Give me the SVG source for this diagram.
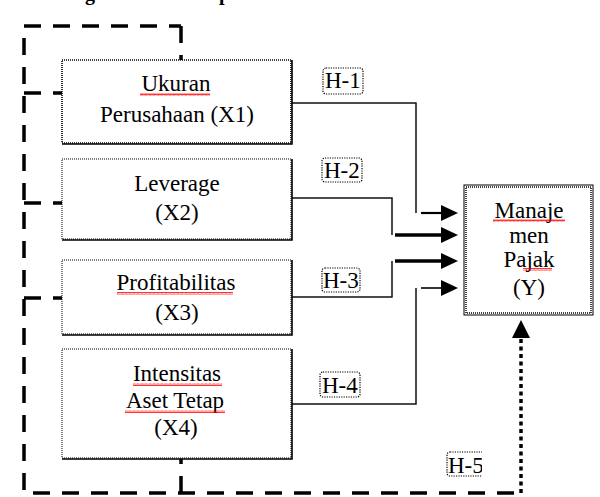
<svg xmlns="http://www.w3.org/2000/svg" width="600" height="497" viewBox="0 0 600 497" font-family="'Liberation Serif', 'Times New Roman', 'DejaVu Serif', serif">
<style>
text{font-family:'Liberation Serif','Times New Roman','DejaVu Serif',serif;font-size:23px;fill:#000}
.c{text-anchor:middle}
.box{fill:#fff;stroke:#000;stroke-width:1;stroke-dasharray:1 1}
.sh{fill:none;stroke:#000;stroke-width:1.6}
.dash{fill:none;stroke:#000;stroke-width:3.5;stroke-dasharray:17 12}
.ln{fill:none;stroke:#111;stroke-width:1.5}
.lab{fill:#fff;stroke:#000;stroke-width:1.2;stroke-dasharray:1.2 1.2}
.sq{fill:url(#sqp)}
</style>
<defs>
<pattern id="sqp" x="0" y="0" width="4" height="3" patternUnits="userSpaceOnUse">
<path d="M0,2.5 L1,0.5 L2,2.5 L3,0.5 L4,2.5" fill="none" stroke="#f00" stroke-width="0.8"/>
</pattern>
<marker id="ah" markerUnits="userSpaceOnUse" markerWidth="17" markerHeight="17" refX="0" refY="8" orient="auto">
<path d="M0,0 L17,8 L0,16 z" fill="#000"/>
</marker>
<clipPath id="h5clip"><rect x="440" y="445" width="42" height="40"/></clipPath>
</defs>

<text x="30.6" y="-0.5" font-family="'Liberation Serif', serif" style="font-weight:bold;font-size:20px;word-spacing:44.6px">Kerangka Konseptual</text>

<g id="connectors">
<path class="dash" d="M181,26 V60"/>
<path class="dash" d="M181,26 H24 V493 H521" stroke-dashoffset="5"/>
<path class="dash" d="M24,93 H62"/>
<path class="dash" d="M24,203 H62"/>
<path class="dash" d="M24,298 H62"/>
<path class="dash" d="M181,493 V459"/>
<path d="M521,493 V337" fill="none" stroke="#000" stroke-width="3.5" stroke-dasharray="4 3.5"/>
<polygon points="521,320 512,338 530,338" fill="#000"/>
<path class="ln" d="M292,103 H416 V213"/>
<path class="ln" d="M292,198 H392 V235"/>
<path class="ln" d="M292,297 H392 V261"/>
<path class="ln" d="M292,404 H416 V288"/>
<line x1="421" y1="213" x2="441" y2="213" stroke="#000" stroke-width="2.2" marker-end="url(#ah)"/>
<line x1="395" y1="235" x2="441" y2="235" stroke="#000" stroke-width="3.5" marker-end="url(#ah)"/>
<line x1="395" y1="261" x2="441" y2="261" stroke="#000" stroke-width="3.5" marker-end="url(#ah)"/>
<line x1="421" y1="288" x2="441" y2="288" stroke="#000" stroke-width="1.6" marker-end="url(#ah)"/>
</g>

<g id="x1">
<rect class="box" x="62" y="60" width="229" height="83" style="stroke-width:1.6"/>
<path class="sh" d="M292,60 V144 H62"/>
<text class="c" x="176" y="91">Ukuran</text>
<rect class="sq" x="140" y="93" width="70" height="3"/>
<text class="c" x="177" y="122">Perusahaan (X1)</text>
</g>

<g id="x2">
<rect class="box" x="62" y="159" width="229" height="80"/>
<path class="sh" d="M292,159 V240 H62"/>
<text class="c" x="177" y="191">Leverage</text>
<text class="c" x="177" y="220">(X2)</text>
</g>

<g id="x3">
<rect class="box" x="62" y="260" width="229" height="74"/>
<path class="sh" d="M292,260 V335 H62"/>
<text class="c" x="176" y="290">Profitabilitas</text>
<rect class="sq" x="117" y="292" width="116" height="3"/>
<text class="c" x="177" y="320">(X3)</text>
</g>

<g id="x4">
<rect class="box" x="62" y="349" width="229" height="109"/>
<path class="sh" d="M292,349 V459 H62"/>
<text class="c" x="177" y="381">Intensitas</text>
<rect class="sq" x="133" y="383" width="89" height="3"/>
<text class="c" x="175" y="408">Aset Tetap</text>
<rect class="sq" x="125" y="410" width="100" height="3"/>
<text class="c" x="176" y="435">(X4)</text>
</g>

<g id="y">
<rect x="464" y="185" width="129" height="130" fill="#fff" stroke="#000" stroke-width="1"/>
<rect x="466" y="187" width="125" height="126" fill="none" stroke="#000" stroke-width="1.5" stroke-dasharray="1 1"/>
<text class="c" x="529" y="218">Manaje</text>
<rect class="sq" x="493" y="219" width="72" height="3"/>
<text class="c" x="529" y="243">men</text>
<text class="c" x="529" y="267">Pajak</text>
<rect class="sq" x="523" y="268" width="29" height="3"/>
<text class="c" x="529" y="295">(Y)</text>
</g>

<g id="h1">
<rect class="lab" x="323" y="68" width="40" height="26" rx="3"/>
<text x="325" y="88">H-1</text>
</g>
<g id="h2">
<rect class="lab" x="322" y="158" width="40" height="24" rx="3"/>
<text x="324" y="178">H-2</text>
</g>
<g id="h3">
<rect class="lab" x="322" y="268" width="38" height="24" rx="3"/>
<text x="323" y="288">H-3</text>
</g>
<g id="h4">
<rect class="lab" x="320" y="372" width="40" height="25" rx="3"/>
<text x="322" y="393">H-4</text>
</g>
<g id="h5" clip-path="url(#h5clip)">
<rect class="lab" x="447" y="452" width="44" height="24" rx="3"/>
<text x="448" y="473">H-5</text>
</g>
</svg>
